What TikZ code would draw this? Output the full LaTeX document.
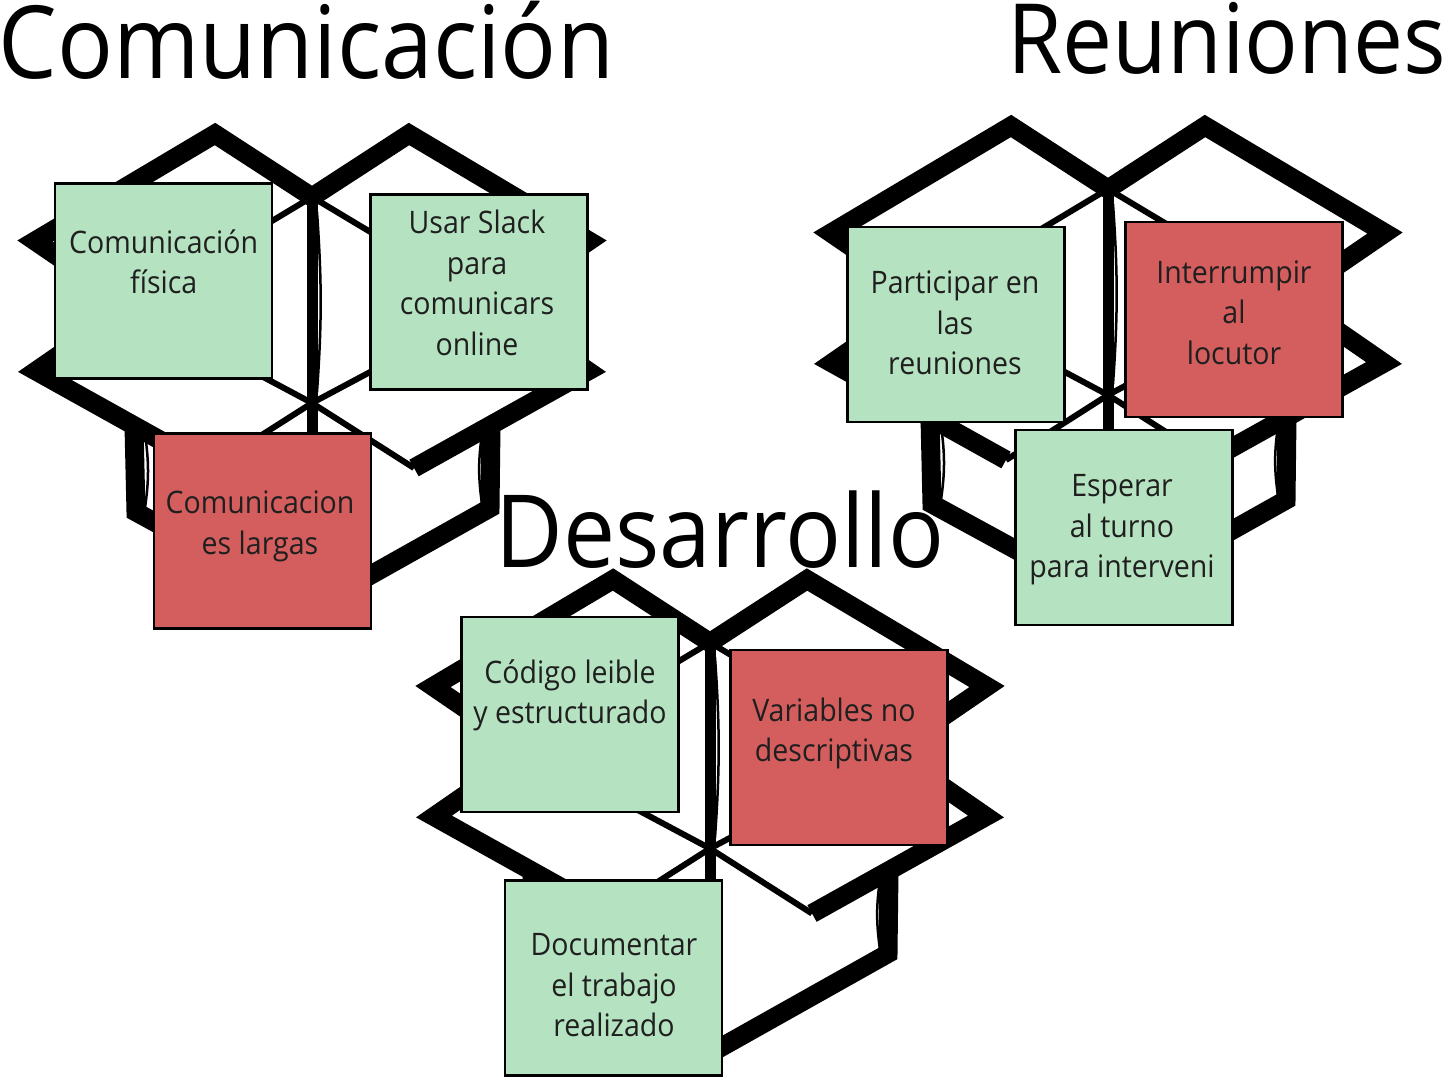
\documentclass[tikz,border=0pt]{standalone}
\usepackage{fontspec}
\newfontfamily\notefont{Open Sans}[FakeStretch=0.92]
\definecolor{notegreen}{HTML}{B5E2C0}
\definecolor{notered}{HTML}{D45E5E}
\tikzset{
  outline/.style={line width=19pt, line join=miter, miter limit=10},
  inner/.style={line width=6pt},
  spine/.style={line width=11pt},
  seam/.style={line width=2.5pt},
  note/.style={draw=black, line width=2.5pt, minimum width=217pt, minimum height=195pt, inner sep=0pt},
  good/.style={note, fill=notegreen},
  bad/.style={note, fill=notered},
  notetext/.style={font=\notefont\fontsize{31}{40.5}\selectfont, align=center, anchor=base, text=black!88},
  title/.style={font=\notefont\fontsize{101}{110}\selectfont, anchor=base west}
}
\begin{document}
\begin{tikzpicture}[x=1pt,y=-1pt]
\useasboundingbox (0,0) rectangle (1451,1077);
\foreach \dx/\dy in {0/0,796/-8,398/445.5}{
\begin{scope}[shift={(\dx,\dy)}]
\draw[outline] (210,468) -- (36,371) -- (130,306) -- (35,241) -- (215,134) -- (312,197) -- (409,134) -- (589,241) -- (494,306) -- (588,371) -- (414,468);
\draw[outline] (134,426) -- (136,512) -- (312,608) -- (490,508) -- (491,426);
\draw[inner] (130,306) -- (312,197) -- (494,306) -- (312,403) -- cycle;
\draw[inner] (210,468) -- (312,403) -- (414,468);
\draw[spine] (312,197) -- (312,608);
\draw[seam] (317,212) to[bend left=4] (317,392);
\draw[seam] (145,434) to[bend left=8] (145,508);
\draw[seam] (482,434) to[bend right=8] (482,504);
\end{scope}}

\node[good] (fis) at (163.7,280.9) {};
\node[good] (slack) at (479,291.9) {};
\node[bad] (largas) at (262.5,531) {};
\node[good] (part) at (956.2,324.6) {};
\node[bad] (inter) at (1233.8,319.4) {};
\node[good] (esp) at (1124.2,527.6) {};
\node[good] (cod) at (570,714.5) {};
\node[bad] (var) at (838.8,747.5) {};
\node[good] (doc) at (613.5,978) {};

\node[notetext] (fis-t) at (163.7,293.7) {Comunicación\\física};
\node[notetext] (slack-t) at (477,355) {Usar Slack\\para\\comunicars\\online};
\node[notetext] (largas-t) at (260,554) {Comunicacion\\es largas};
\node[notetext] (part-t) at (955,374.7) {Participar en\\las\\reuniones};
\node[notetext] (inter-t) at (1234,364) {Interrumpir\\al\\locutor};
\node[notetext] (esp-t) at (1122,577.5) {Esperar\\al turno\\para interveni};
\node[notetext] (cod-t) at (570,723.7) {Código leible\\y estructurado};
\node[notetext] (var-t) at (834,761.8) {Variables no\\descriptivas};
\node[notetext] (doc-t) at (614,1036.7) {Documentar\\el trabajo\\realizado};

\node[title] (com) at (-5,78) {Comunicación};
\node[title, font=\notefont\fontsize{97}{105}\selectfont] (reu) at (1004,73) {Reuniones};
\node[title] (des) at (492,567) {Desarrollo};
\end{tikzpicture}
\end{document}
